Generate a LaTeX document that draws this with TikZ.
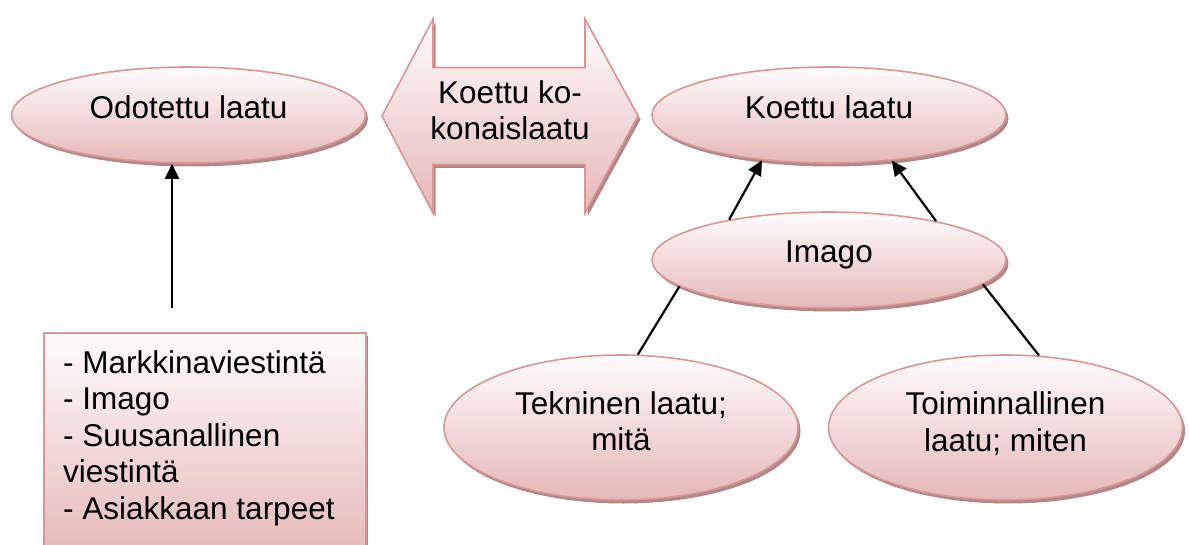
\documentclass[tikz,border=0pt]{standalone}
\usepackage{fontspec}
\setmainfont{Liberation Sans}
\usetikzlibrary{shapes.geometric,arrows.meta,shadows}
\definecolor{ovalline}{RGB}{217,150,148}
\definecolor{ovaltop}{RGB}{255,252,252}
\definecolor{ovalbot}{RGB}{229,184,183}
\definecolor{shadowcol}{RGB}{172,138,138}
\begin{document}
\begin{tikzpicture}[x=1pt,y=-1pt,
  shadowed/.style={general shadow={fill=shadowcol, shadow xshift=2.5pt, shadow yshift=-3.5pt}},
  pinkfill/.style={draw=ovalline, line width=1.6pt, top color=ovaltop, bottom color=ovalbot},
  oval/.style={ellipse, pinkfill, shadowed, minimum width=354pt, inner sep=0pt},
  lbl/.style={font=\fontsize{31.5pt}{36.5pt}\selectfont, inner sep=0pt, text=black},
  conn/.style={line width=2.2pt, black},
  tip/.style={conn, -{Triangle[length=15pt,width=14pt]}}
]
\useasboundingbox (0,0) rectangle (1189,545);
\clip (0,0) rectangle (1189,545);

% ellipses
\node[oval, minimum height=96pt] (odot) at (188.5,115) {};
\node[oval, minimum height=96pt] (koettu) at (829,115) {};
\node[oval, minimum height=96pt] (imago) at (829,260) {};
\node[oval, minimum height=145pt] (tek) at (621,427.5) {};
\node[oval, minimum height=145pt] (toim) at (1005.5,427.5) {};

% double arrow
\path[pinkfill, shadowed] (382,116) -- (433,19) -- (433,67.5) -- (585,67.5) -- (585,19)
  -- (638,116) -- (585,213) -- (585,164.5) -- (433,164.5) -- (433,213) -- cycle;

% box
\node[rectangle, pinkfill, shadowed, anchor=north west, minimum width=322pt,
  minimum height=225pt, inner sep=0pt] (box) at (43,332) {};

% texts
\node[lbl, anchor=base] (odottxt) at (188.5,119) {Odotettu laatu};
\node[lbl, anchor=base] (koettutxt) at (829,119) {Koettu laatu};
\node[lbl, anchor=base] (imagotxt) at (829,263) {Imago};
\node[lbl, align=center] (arrowtxt) at (510,114) {\strut Koettu ko-\\\strut konaislaatu};
\node[lbl, align=center] (tektxt) at (621,425) {\strut Tekninen laatu;\\\strut mitä};
\node[lbl, align=center] (toimtxt) at (1005.5,425.5) {\strut Toiminnallinen\\\strut laatu; miten};
\node[lbl, align=left, anchor=north west] (boxtxt) at (63,347.5)
  {\strut - Markkinaviestintä\\\strut - Imago\\\strut - Suusanallinen\\\strut viestintä\\\strut - Asiakkaan tarpeet};

% connectors
\coordinate (odotfoot) at (172,308);
\draw[tip] (odotfoot) -- (odotfoot |- odot.south);
\draw[tip] (imago.158.7) -- (koettu.214.7);
\draw[tip] (imago.20.5) -- (koettu.324.9);
\draw[conn] (tek.77.3) -- (imago.190.5);
\draw[conn] (toim.65.7) -- (imago.351.2);
\end{tikzpicture}
\end{document}
